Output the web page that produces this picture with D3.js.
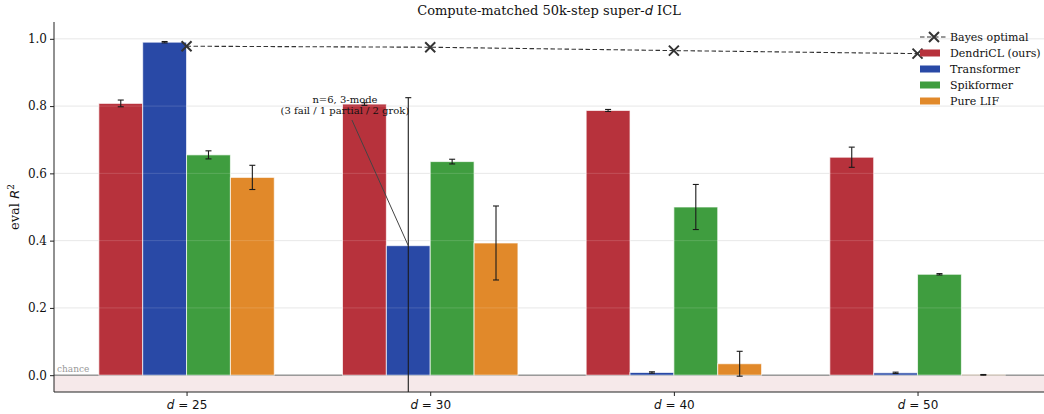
<!DOCTYPE html>
<html>
<head>
<meta charset="utf-8">
<script src="https://cdn.jsdelivr.net/npm/d3@7.9.0/dist/d3.min.js"></script>
<style>
  body { margin: 0; background: #fff; }
  text { font-family: "DejaVu Serif", serif; }
</style>
</head>
<body>
<svg id="chart" width="1044" height="414"></svg>
<script>
// data
const groups = ["25", "30", "40", "50"];
const models = ["DendriCL (ours)", "Transformer", "Spikformer", "Pure LIF"];
const colors = ["#b7323c", "#2949a6", "#3f9d3f", "#e1892a"];
const dendricl = [0.808, 0.806, 0.787, 0.648];
const dendriclErr = [0.010, 0.004, 0.003, 0.030];
const transformer = [0.990, 0.385, 0.008, 0.007];
const transformerErr = [0.002, 0.440, 0.002, 0.002];
const spikformer = [0.655, 0.635, 0.500, 0.300];
const spikformerErr = [0.012, 0.007, 0.067, 0.002];
const pureLif = [0.588, 0.393, 0.034, 0.001];
const pureLifErr = [0.036, 0.110, 0.037, 0.001];
const bayes = [0.978, 0.975, 0.965, 0.956];
const yTicks = [0.0, 0.2, 0.4, 0.6, 0.8, 1.0];

const series = [dendricl, transformer, spikformer, pureLif];
const seriesErr = [dendriclErr, transformerErr, spikformerErr, pureLifErr];

const svg = d3.select("#chart");
const mLeft = 54, mRight = 1044, mTop = 22, mBottom = 392;

const x = d3.scaleLinear().domain([-0.544, 3.519]).range([mLeft, mRight]);
const y = d3.scaleLinear().domain([-0.05, 1.05]).range([mBottom, mTop]);
const barW = 0.18;

const defs = svg.append("defs");
defs.append("clipPath").attr("id", "plot")
  .append("rect").attr("x", mLeft).attr("y", mTop).attr("width", mRight - mLeft).attr("height", mBottom - mTop);

const plot = svg.append("g").attr("clip-path", "url(#plot)");

// chance band
plot.append("rect")
  .attr("x", mLeft).attr("width", mRight - mLeft)
  .attr("y", y(0)).attr("height", y(-0.05) - y(0))
  .attr("fill", "#f6e9ea");

// grid
plot.selectAll("line.grid").data(yTicks).enter().append("line")
  .attr("x1", mLeft).attr("x2", mRight)
  .attr("y1", d => y(d)).attr("y2", d => y(d))
  .attr("stroke", "#e6e6e6").attr("stroke-width", 1);

// chance line
plot.append("line")
  .attr("x1", mLeft).attr("x2", mRight)
  .attr("y1", y(0)).attr("y2", y(0))
  .attr("stroke", "#9a9a9a").attr("stroke-width", 1.6);

svg.append("text")
  .attr("x", mLeft + 3).attr("y", y(0) - 3)
  .attr("font-size", 9).attr("fill", "#999")
  .text("chance");

// bars
series.forEach((vals, i) => {
  const off = (i - 1.5) * barW;
  plot.selectAll(null).data(vals).enter().append("rect")
    .attr("x", (d, j) => x(j + off - barW / 2))
    .attr("width", x(barW) - x(0))
    .attr("y", d => y(Math.max(d, 0)))
    .attr("height", d => Math.abs(y(d) - y(0)))
    .attr("fill", colors[i])
    .attr("stroke", "#fff").attr("stroke-opacity", 0.7).attr("stroke-width", 1);
});

// faint grid showing through the bars
plot.selectAll(null).data(yTicks.slice(1)).enter().append("line")
  .attr("x1", mLeft).attr("x2", mRight)
  .attr("y1", d => y(d)).attr("y2", d => y(d))
  .attr("stroke", "#fff").attr("stroke-opacity", 0.15).attr("stroke-width", 1);

// error bars
series.forEach((vals, i) => {
  const off = (i - 1.5) * barW;
  const err = seriesErr[i];
  vals.forEach((v, j) => {
    const cx = x(j + off);
    const g = plot.append("g").attr("stroke", "#1a1a1a").attr("stroke-width", 1.1);
    g.append("line").attr("x1", cx).attr("x2", cx).attr("y1", y(v - err[j])).attr("y2", y(v + err[j]));
    [v - err[j], v + err[j]].forEach(e => {
      g.append("line").attr("x1", cx - 3).attr("x2", cx + 3).attr("y1", y(e)).attr("y2", y(e));
    });
  });
});

// Bayes optimal
const line = d3.line().x((d, j) => x(j)).y(d => y(d));
plot.append("path").datum(bayes)
  .attr("d", line).attr("fill", "none")
  .attr("stroke", "#333").attr("stroke-width", 1.1).attr("stroke-dasharray", "4.5,2.5");
const cross = (g, cx, cy, s) => {
  g.append("path")
    .attr("d", `M${cx - s},${cy - s}L${cx + s},${cy + s}M${cx - s},${cy + s}L${cx + s},${cy - s}`)
    .attr("stroke", "#333").attr("stroke-width", 2).attr("fill", "none");
};
bayes.forEach((v, j) => cross(plot, x(j), y(v), 5));

// annotation
const tx = x(1 - 0.35);
const ann = svg.append("g");
ann.append("line")
  .attr("x1", tx + 7).attr("y1", 120)
  .attr("x2", x(1 - 0.5 * barW)).attr("y2", y(transformer[1]))
  .attr("stroke", "#444").attr("stroke-width", 1);
ann.append("text").attr("x", tx).attr("y", 103).attr("text-anchor", "middle")
  .attr("font-size", 10).attr("fill", "#111").text("n=6, 3-mode");
ann.append("text").attr("x", tx).attr("y", 114).attr("text-anchor", "middle")
  .attr("font-size", 10).attr("fill", "#111").text("(3 fail / 1 partial / 2 grok)");

// axes
const xAxis = svg.append("g").attr("transform", `translate(0,${mBottom})`)
  .call(d3.axisBottom(x).tickValues([0, 1, 2, 3]).tickSize(4).tickFormat(""));
xAxis.select(".domain").attr("stroke", "#222");
xAxis.selectAll(".tick line").attr("stroke", "#222");
xAxis.selectAll(".tick").each(function (d) {
  const t = d3.select(this).append("text")
    .attr("y", 17).attr("text-anchor", "middle").attr("fill", "#111")
    .style("font-family", "'DejaVu Sans', sans-serif").attr("font-size", 12);
  t.append("tspan").attr("font-style", "italic").text("d");
  t.append("tspan").text(" = " + groups[d]);
});

const yAxis = svg.append("g").attr("transform", `translate(${mLeft},0)`)
  .call(d3.axisLeft(y).tickValues(yTicks).tickSize(4).tickFormat(d3.format(".1f")));
yAxis.select(".domain").attr("stroke", "#222");
yAxis.selectAll(".tick line").attr("stroke", "#222");
yAxis.selectAll(".tick text")
  .style("font-family", "'DejaVu Serif', serif").attr("font-size", 12).attr("fill", "#111");
yAxis.select(".domain").attr("d", `M0,${mTop}V${mBottom}`);
xAxis.select(".domain").attr("d", `M${mLeft},0H${mRight}`);

// title
const title = svg.append("text").attr("x", (mLeft + mRight) / 2).attr("y", 15)
  .attr("text-anchor", "middle").attr("font-size", 13).attr("fill", "#111");
title.append("tspan").text("Compute-matched 50k-step super-");
title.append("tspan").attr("font-style", "italic").style("font-family", "'DejaVu Sans', sans-serif").text("d");
title.append("tspan").text(" ICL");

// y label
const yl = svg.append("text")
  .attr("transform", `translate(19,${(mTop + mBottom) / 2}) rotate(-90)`)
  .attr("text-anchor", "middle").attr("font-size", 13).attr("fill", "#111");
yl.append("tspan").text("eval ");
yl.append("tspan").attr("font-style", "italic").style("font-family", "'DejaVu Sans', sans-serif").text("R");
yl.append("tspan").attr("font-size", 9).attr("dy", -5).text("2");

// legend
const leg = svg.append("g").attr("transform", "translate(920,37)");
const legItems = ["Bayes optimal"].concat(models);
legItems.forEach((name, i) => {
  const row = leg.append("g").attr("transform", `translate(0,${i * 16})`);
  if (i === 0) {
    row.append("line").attr("x1", 0).attr("x2", 28).attr("y1", 0).attr("y2", 0)
      .attr("stroke", "#333").attr("stroke-width", 1.1).attr("stroke-dasharray", "4.5,2.5");
    cross(row, 14, 0, 5);
  } else {
    row.append("rect").attr("x", 0).attr("y", -3.5).attr("width", 20).attr("height", 7)
      .attr("fill", colors[i - 1]);
  }
  row.append("text").attr("x", 30).attr("y", 4).attr("font-size", 11).attr("fill", "#111").text(name);
});
</script>
</body>
</html>
